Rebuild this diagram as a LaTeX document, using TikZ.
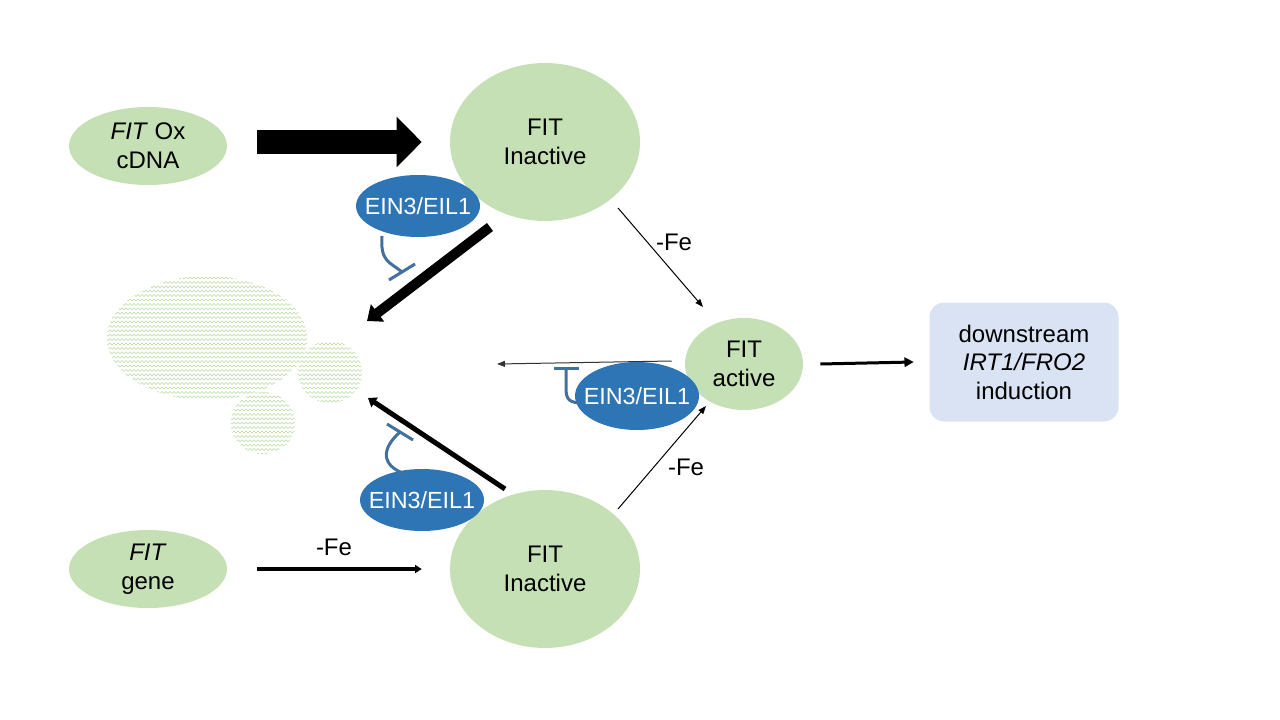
\documentclass[tikz,border=0pt]{standalone}
\usepackage{fontspec}
\setmainfont{Liberation Sans}
\usepackage{tikz}
\usetikzlibrary{arrows.meta,shapes.geometric,patterns}

\definecolor{fitgreen}{RGB}{197,224,180}
\definecolor{einblue}{RGB}{46,117,182}
\definecolor{inhblue}{RGB}{65,113,156}
\definecolor{boxblue}{RGB}{218,227,243}
\definecolor{zzgreen}{RGB}{183,216,160}

\pgfdeclarepatternformonly{zigzag}{\pgfqpoint{-0.5pt}{-0.5pt}}{\pgfqpoint{3.5pt}{3.8pt}}{\pgfqpoint{3pt}{3.3pt}}{
  \pgfsetlinewidth{0.4pt}
  \pgfpathmoveto{\pgfqpoint{0pt}{0.75pt}}
  \pgfpathlineto{\pgfqpoint{1.5pt}{2.25pt}}
  \pgfpathlineto{\pgfqpoint{3pt}{0.75pt}}
  \pgfusepath{stroke}
}

\begin{document}
\begin{tikzpicture}[x=0.75pt,y=0.75pt,yscale=-1,xscale=1,
  fitnode/.style={ellipse,fill=fitgreen,inner sep=0pt,align=center,font=\fontsize{18}{21.6}\selectfont},
  einnode/.style={ellipse,fill=einblue,text=white,inner ysep=0pt,inner xsep=-8pt,minimum width=93pt,minimum height=46.5pt,font=\fontsize{17.5}{21}\selectfont},
  txtnode/.style={inner sep=0pt,font=\fontsize{18}{21.6}\selectfont},
  inhib/.style={draw=inhblue,line width=2.25pt},
  blob/.style={pattern=zigzag,pattern color=zzgreen},
  bigarrow/.style={line width=18pt,-{Triangle[length=18.75pt,width=36.75pt]}},
  fatarrow/.style={line width=7.5pt,-{Triangle[length=10pt,width=16pt]}},
  midarrow/.style={line width=3.75pt,-{Triangle[length=6pt,width=8.5pt]}},
  genearrow/.style={line width=3pt,-{Triangle[length=5pt,width=6pt]}},
  outarrow/.style={line width=2.25pt,-{Triangle[length=7pt,width=7pt]}},
  fearrow/.style={line width=0.75pt,-{Triangle[length=6pt,width=4.5pt]}}
]
\useasboundingbox (0,0) rectangle (1280,720);

%Shape: Blobs
\fill[blob] (207,338) ellipse [x radius=100, y radius=62];
\fill[blob] (330,372) ellipse [x radius=32, y radius=31];
\fill[blob] (263,423) ellipse [x radius=32, y radius=31];

%Shape: Ellipse
\node[fitnode,minimum width=118.5pt,minimum height=58.5pt] (ox) at (148,146) {\textit{FIT} Ox\\cDNA};
\node[fitnode,minimum width=118.5pt,minimum height=58.5pt] (gene) at (148,569) {\textit{FIT}\\gene};
\node[fitnode,minimum width=142.5pt,minimum height=118.5pt] (inactA) at (545,142) {FIT\\Inactive};
\node[fitnode,minimum width=142.5pt,minimum height=118.5pt] (inactB) at (545,569) {FIT\\Inactive};
\node[fitnode,minimum width=88.5pt,minimum height=69pt] (active) at (744,364) {FIT\\active};

%Shape: Rounded Rect
\node[rectangle,rounded corners=11pt,fill=boxblue,minimum width=141.75pt,minimum height=89.25pt,align=center,font=\fontsize{18}{21.4}\selectfont] (down) at (1024,362) {downstream\\\textit{IRT1/FRO2}\\induction};

%Free ends
\coordinate (dAs) at (490,227);
\coordinate (dAe) at (367,321);
\coordinate (dBs) at (505,489);
\coordinate (dBe) at (368,398);
\coordinate (feAs) at (618,208);
\coordinate (feAe) at (703,307);
\coordinate (feBs) at (618,509);
\coordinate (feBe) at (706,406);
\coordinate (backe) at (497,364);

%Straight Lines
\draw[bigarrow] ([xshift=22.5pt,yshift=-3pt]ox.east) -- ([xshift=-21pt]inactA.west);
\draw[genearrow] ([xshift=22.5pt]gene.east) -- ([xshift=-21pt]inactB.west);
\draw[fatarrow] (dAs) -- (dAe);
\draw[midarrow] (dBs) -- (dBe);
\draw[fearrow] (feAs) -- (feAe);
\draw[fearrow] (feBs) -- (feBe);
\draw[fearrow,draw=black!80] ([xshift=-9.75pt,yshift=-2.25pt]active.west) -- (backe);
\draw[outarrow] ([xshift=12.75pt]active.east) -- ([xshift=-11.6pt]down.west);

% Text Node
\node[txtnode] (feA) at (674,242) {-Fe};
\node[txtnode] (feB) at (686,467) {-Fe};
\node[txtnode] (feC) at (334,547) {-Fe};

%Shape: Ellipse
\node[einnode] (einA) at (418,206) {EIN3/EIL1};
\node[einnode,minimum height=51pt] (einB) at (637,396) {EIN3/EIL1};
\node[einnode] (einC) at (422,500) {EIN3/EIL1};

%Inhibition
\draw[inhib] (382,236) .. controls (380,262) and (390,262) .. (402,272);
\draw[inhib] (389,280) -- (415,264);
\draw[inhib] (579,403) .. controls (566,402) and (566,396) .. (566,385) -- (566,368);
\draw[inhib] (554,368) -- (579,368);
\draw[inhib] (405,474) .. controls (380,465) and (382,448) .. (400,432);
\draw[inhib] (387,424) -- (413,440);

\end{tikzpicture}
\end{document}
